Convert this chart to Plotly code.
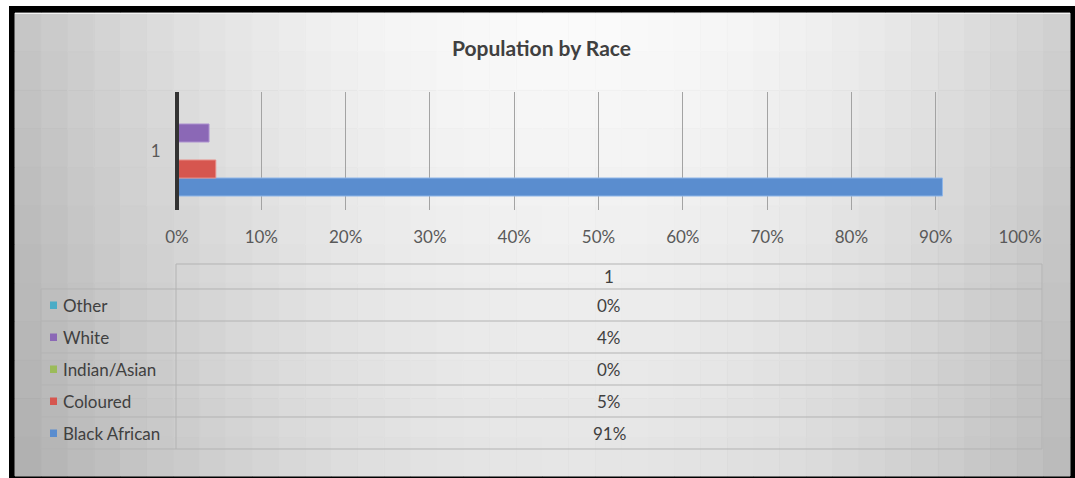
import plotly.graph_objects as go

# ---- data ----
races = ["Black African", "Coloured", "Indian/Asian", "White", "Other"]
shares = [90.8, 4.6, 0.0, 3.8, 0.0]          # percent
category = ["1"]
x_ticks = [0, 10, 20, 30, 40, 50, 60, 70, 80, 90, 100]
x_tick_labels = ["0%", "10%", "20%", "30%", "40%", "50%", "60%", "70%", "80%", "90%", "100%"]
title_text = "Population by Race"

# ---- style ----
colors = {"Black African": "#5a8dcf", "Coloured": "#d6564f", "Indian/Asian": "#9bbb59",
          "White": "#8b68b6", "Other": "#4bacc6"}
outline = {"Black African": "#8fb6e8", "Coloured": "#e88c86", "Indian/Asian": "#b9d388",
           "White": "#ad92d0", "Other": "#84cbdc"}
W, H = 1075, 478
FONT = "Lato, 'Open Sans', sans-serif"
TXT = "#404040"
AX_L, AX_R = 177, 1020


def px(x):
    return x / W


def py(y):
    return 1 - y / H


fig = go.Figure()
for r, v in zip(races, shares):
    fig.add_trace(go.Bar(
        y=category, x=[v], name=r, orientation="h",
        marker=dict(color=colors[r], line=dict(color=outline[r], width=1)),
        hoverinfo="name+x", showlegend=False))

shapes = []
# black frame
shapes.append(dict(type="rect", xref="paper", yref="paper", x0=px(9), x1=px(W), y0=py(H), y1=py(6),
                   fillcolor="#000000", line=dict(width=0), layer="below"))
# gradient background approximated by cells
L, R, T, B = 15, 1070, 13, 476
nx, ny = 40, 12
for i in range(nx):
    for j in range(ny):
        x0 = L + (R - L) * i / nx
        x1 = L + (R - L) * (i + 1) / nx
        y0 = T + (B - T) * j / ny
        y1 = T + (B - T) * (j + 1) / ny
        cx = (x0 + x1) / 2
        cy = (y0 + y1) / 2
        u = (cx - 570) / 540
        v = (cy - 20) / 460
        b = 251 - 52 * u * u - 22 * v
        b = int(max(0, min(255, b)))
        c = f"rgb({b},{b},{b})"
        shapes.append(dict(type="rect", xref="paper", yref="paper", x0=px(x0), x1=px(x1),
                           y0=py(y1), y1=py(y0), fillcolor=c,
                           line=dict(width=1, color=c), layer="below"))
# thin light line inside top of frame
shapes.append(dict(type="line", xref="paper", yref="paper", x0=px(15), x1=px(1070), y0=py(13.5), y1=py(13.5),
                   line=dict(color="#f4f4f4", width=1), layer="below"))
# vertical category axis line (thick, centred on 0%)
shapes.append(dict(type="line", xref="paper", yref="paper", x0=px(AX_L), x1=px(AX_L), y0=py(210), y1=py(92),
                   line=dict(color="#333333", width=4), layer="above"))

# ---- data table ----
tl, tc, tr = 41, 176, 1042
t_top, t_head = 264, 289
row_h = 32
n = len(races)
t_bot = t_head + row_h * n
LINE = "#b3b3b3"


def hline(y, xa, xb):
    shapes.append(dict(type="line", xref="paper", yref="paper", x0=px(xa), x1=px(xb), y0=py(y), y1=py(y),
                       line=dict(color=LINE, width=1)))


def vline(x, ya, yb):
    shapes.append(dict(type="line", xref="paper", yref="paper", x0=px(x), x1=px(x), y0=py(ya), y1=py(yb),
                       line=dict(color=LINE, width=1)))


hline(t_top, tc, tr)
for k in range(n + 1):
    hline(t_head + k * row_h, tl, tr)
vline(tc, t_top, t_bot)
vline(tr, t_top, t_bot)
vline(tl, t_head, t_bot)

annotations = [dict(text=f"<b>{title_text}</b>", x=px(541), y=py(47), xref="paper", yref="paper",
                    showarrow=False, font=dict(family=FONT, size=21, color="#404040"),
                    xanchor="center", yanchor="middle")]
mid = (tc + tr) / 2
annotations.append(dict(text=category[0], x=px(mid), y=py((t_top + t_head) / 2), xref="paper", yref="paper",
                        showarrow=False, font=dict(family=FONT, size=17, color=TXT),
                        xanchor="center", yanchor="middle"))
for k, (r, v) in enumerate(zip(races[::-1], shares[::-1])):
    cy = t_head + row_h * k + row_h / 2
    annotations.append(dict(text=f"{round(v)}%", x=px(mid), y=py(cy), xref="paper", yref="paper",
                            showarrow=False, font=dict(family=FONT, size=17, color=TXT),
                            xanchor="center", yanchor="middle"))
    annotations.append(dict(text=r, x=px(61), y=py(cy), xref="paper", yref="paper",
                            showarrow=False, font=dict(family=FONT, size=17, color=TXT),
                            xanchor="left", yanchor="middle"))
    shapes.append(dict(type="rect", xref="paper", yref="paper", x0=px(50), x1=px(57), y0=py(cy + 4),
                       y1=py(cy - 3.5), fillcolor=colors[r], line=dict(width=0)))

fig.update_layout(
    width=W, height=H, margin=dict(l=0, r=0, t=0, b=0, autoexpand=False),
    paper_bgcolor="#ffffff", plot_bgcolor="rgba(0,0,0,0)",
    barmode="group", bargap=0.237, bargroupgap=0,
    shapes=shapes, annotations=annotations,
    xaxis=dict(domain=[px(AX_L), px(AX_R)], range=[0, 100], tickvals=x_ticks, ticktext=x_tick_labels,
               showgrid=True, gridcolor="#a3a3a3", gridwidth=1, zeroline=False, showline=False,
               ticks="outside", ticklen=12, tickcolor="rgba(0,0,0,0)", automargin=False,
               tickfont=dict(family=FONT, size=17, color="#595959"), fixedrange=True),
    yaxis=dict(domain=[py(210), py(92)], type="category", showgrid=False, zeroline=False,
               showline=False, automargin=False,
               ticks="outside", ticklen=12, tickcolor="rgba(0,0,0,0)",
               tickfont=dict(family=FONT, size=17, color="#595959"), fixedrange=True),
    font=dict(family=FONT),
)

fig.write_html("out.html")
